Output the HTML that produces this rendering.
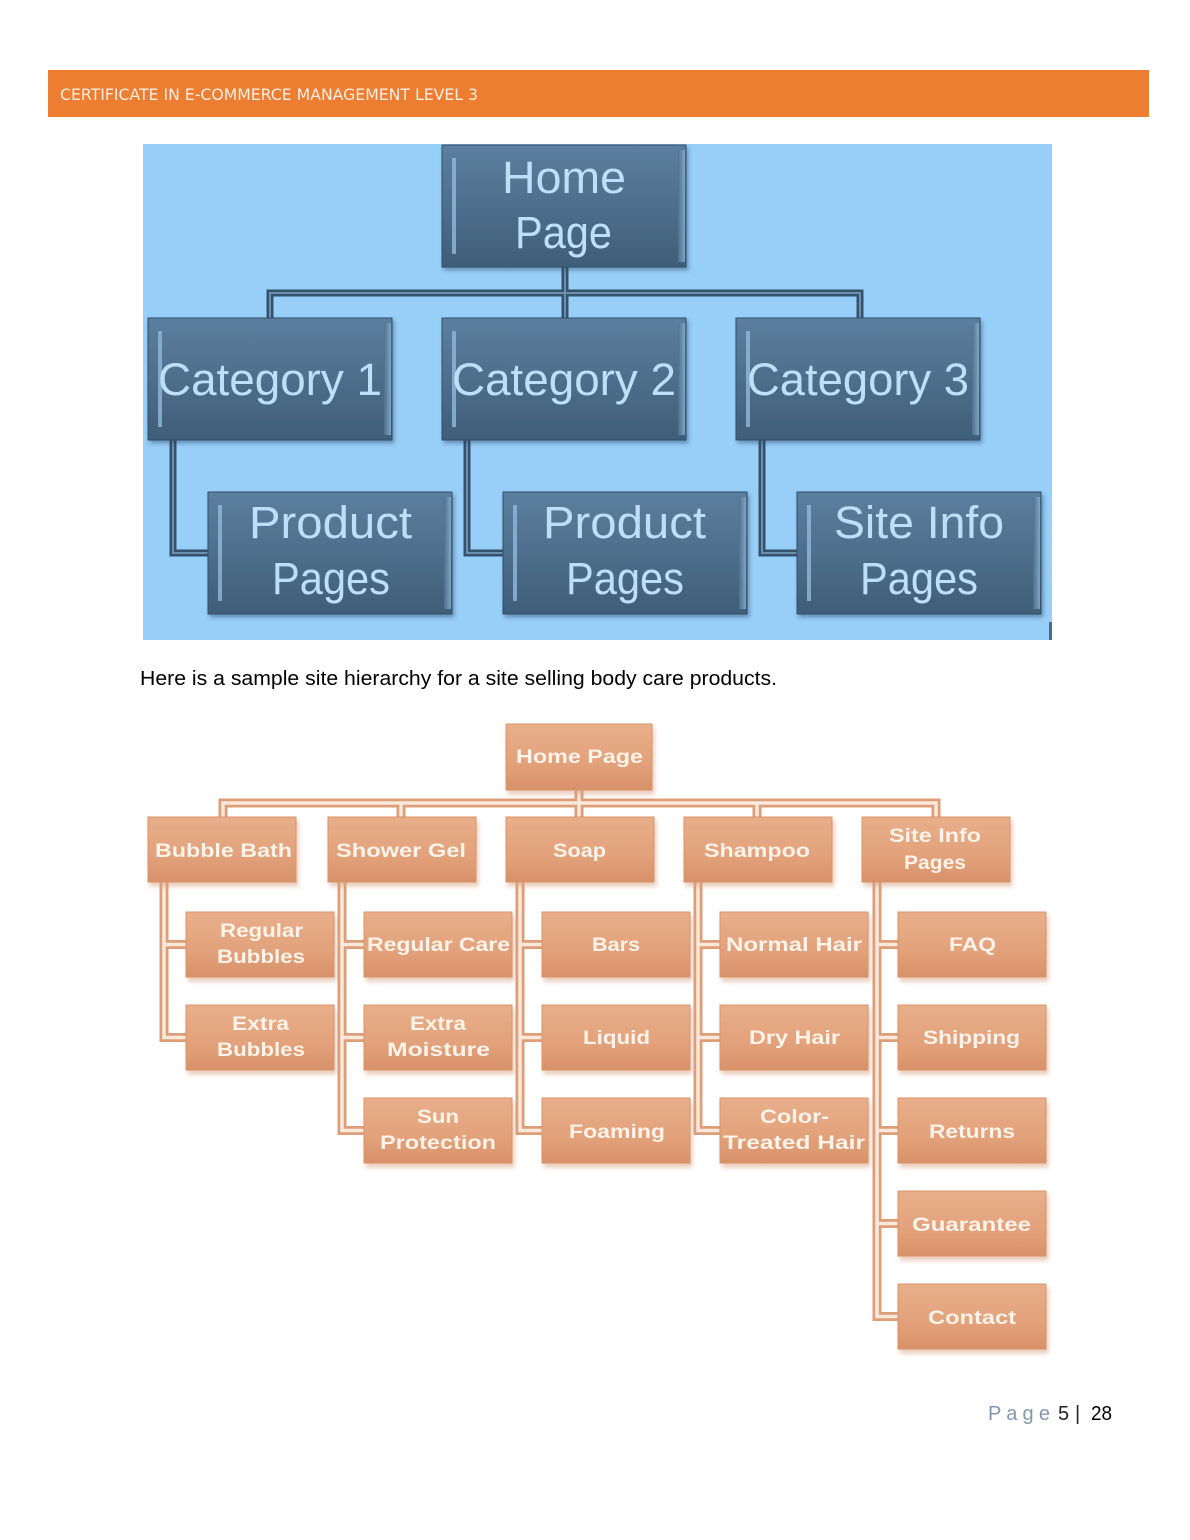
<!DOCTYPE html>
<html>
<head>
<meta charset="utf-8">
<style>
html,body{margin:0;padding:0;background:#fff;}
body{width:1190px;height:1540px;overflow:hidden;position:relative;}
svg{position:absolute;left:0;top:0;}
</style>
</head>
<body>
<svg width="1190" height="1540" viewBox="0 0 1190 1540" xmlns="http://www.w3.org/2000/svg">
<defs>
  <linearGradient id="bb" x1="0" y1="0" x2="0" y2="1">
    <stop offset="0" stop-color="#5b7f9e"/>
    <stop offset="0.5" stop-color="#4d6f8d"/>
    <stop offset="1" stop-color="#3f5d78"/>
  </linearGradient>
  <linearGradient id="rb" x1="0" y1="0" x2="1" y2="0">
    <stop offset="0" stop-color="#4f7190"/>
    <stop offset="1" stop-color="#86abc9"/>
  </linearGradient>
  <linearGradient id="ob" x1="0" y1="0" x2="0" y2="1">
    <stop offset="0" stop-color="#e8af8b"/>
    <stop offset="0.6" stop-color="#e2a17a"/>
    <stop offset="1" stop-color="#d8916a"/>
  </linearGradient>
  <filter id="os" x="-10%" y="-10%" width="125%" height="140%">
    <feDropShadow dx="2" dy="4" stdDeviation="2.5" flood-color="#d9a080" flood-opacity="0.55"/>
  </filter>
  <filter id="bs" x="-10%" y="-10%" width="125%" height="130%">
    <feDropShadow dx="2" dy="3" stdDeviation="2" flood-color="#2c4660" flood-opacity="0.45"/>
  </filter>
</defs>

<!-- Header -->
<rect x="48" y="70" width="1101" height="47" fill="#ed7d31"/>
<text x="60" y="100" font-family="DejaVu Sans, sans-serif" font-size="16" fill="#fdeee3" textLength="418" lengthAdjust="spacingAndGlyphs">CERTIFICATE IN E-COMMERCE MANAGEMENT LEVEL 3</text>

<!-- Blue diagram -->
<rect x="143" y="144" width="909" height="496" fill="#98cff9"/>
<rect x="1049" y="622" width="3" height="18" fill="#4a6a88"/>

<g fill="none" stroke-linejoin="miter">
  <path d="M270 318 V293 H860 V318 M565 267 V318" stroke="#34526c" stroke-width="7"/>
  <path d="M270 318 V293 H860 V318 M565 267 V318" stroke="#6d90ad" stroke-width="2"/>
  <path d="M173 440 V553 H208 M467 440 V553 H503 M762 440 V553 H797" stroke="#34526c" stroke-width="7"/>
  <path d="M173 440 V553 H208 M467 440 V553 H503 M762 440 V553 H797" stroke="#6d90ad" stroke-width="2"/>
</g>

<g>
  <g filter="url(#bs)">
    <rect x="442" y="145" width="244" height="122" fill="url(#bb)" stroke="#33506a"/>
    <rect x="148" y="318" width="244" height="122" fill="url(#bb)" stroke="#33506a"/>
    <rect x="442" y="318" width="244" height="122" fill="url(#bb)" stroke="#33506a"/>
    <rect x="736" y="318" width="244" height="122" fill="url(#bb)" stroke="#33506a"/>
    <rect x="208" y="492" width="244" height="122" fill="url(#bb)" stroke="#33506a"/>
    <rect x="503" y="492" width="244" height="122" fill="url(#bb)" stroke="#33506a"/>
    <rect x="797" y="492" width="244" height="122" fill="url(#bb)" stroke="#33506a"/>
  </g>
  <g fill="#8db5d6" opacity="0.85">
    <rect x="452" y="158" width="4" height="96"/>
    <rect x="158" y="331" width="4" height="96"/>
    <rect x="452" y="331" width="4" height="96"/>
    <rect x="746" y="331" width="4" height="96"/>
    <rect x="218" y="505" width="4" height="96"/>
    <rect x="513" y="505" width="4" height="96"/>
    <rect x="807" y="505" width="4" height="96"/>
  </g>
  <g fill="url(#rb)" opacity="0.9">
    <rect x="678" y="150" width="7" height="112"/>
    <rect x="384" y="323" width="7" height="112"/>
    <rect x="678" y="323" width="7" height="112"/>
    <rect x="972" y="323" width="7" height="112"/>
    <rect x="444" y="497" width="7" height="112"/>
    <rect x="739" y="497" width="7" height="112"/>
    <rect x="1033" y="497" width="7" height="112"/>
  </g>
</g>

<g font-family="Liberation Sans, Arial, sans-serif" font-size="45" fill="#bddff9">
  <text x="502" y="193" textLength="124" lengthAdjust="spacingAndGlyphs">Home</text>
  <text x="515" y="248" textLength="97" lengthAdjust="spacingAndGlyphs">Page</text>
  <text x="158" y="395" textLength="224" lengthAdjust="spacingAndGlyphs">Category 1</text>
  <text x="452" y="395" textLength="224" lengthAdjust="spacingAndGlyphs">Category 2</text>
  <text x="747" y="395" textLength="222" lengthAdjust="spacingAndGlyphs">Category 3</text>
  <text x="249" y="538" textLength="163" lengthAdjust="spacingAndGlyphs">Product</text>
  <text x="272" y="594" textLength="118" lengthAdjust="spacingAndGlyphs">Pages</text>
  <text x="543" y="538" textLength="163" lengthAdjust="spacingAndGlyphs">Product</text>
  <text x="566" y="594" textLength="118" lengthAdjust="spacingAndGlyphs">Pages</text>
  <text x="834" y="538" textLength="170" lengthAdjust="spacingAndGlyphs">Site Info</text>
  <text x="860" y="594" textLength="118" lengthAdjust="spacingAndGlyphs">Pages</text>
</g>

<!-- Caption -->
<text x="140" y="685" font-family="Liberation Sans, Arial, sans-serif" font-size="20" fill="#000" textLength="637" lengthAdjust="spacingAndGlyphs">Here is a sample site hierarchy for a site selling body care products.</text>

<!-- Orange diagram connectors -->
<g fill="none">
  <path d="M223 817 V803 H936 V817 M401 803 V817 M579 790 V817 M757 803 V817
           M164 882 V1037.5 H186 M164 944.5 H186
           M342 882 V1130.5 H364 M342 944.5 H364 M342 1037.5 H364
           M520 882 V1130.5 H542 M520 944.5 H542 M520 1037.5 H542
           M698 882 V1130.5 H720 M698 944.5 H720 M698 1037.5 H720
           M877 882 V1316.5 H898 M877 944.5 H898 M877 1037.5 H898 M877 1130.5 H898 M877 1223.5 H898"
        stroke="#dc9d77" stroke-width="9"/>
  <path d="M223 817 V803 H936 V817 M401 803 V817 M579 790 V817 M757 803 V817
           M164 882 V1037.5 H186 M164 944.5 H186
           M342 882 V1130.5 H364 M342 944.5 H364 M342 1037.5 H364
           M520 882 V1130.5 H542 M520 944.5 H542 M520 1037.5 H542
           M698 882 V1130.5 H720 M698 944.5 H720 M698 1037.5 H720
           M877 882 V1316.5 H898 M877 944.5 H898 M877 1037.5 H898 M877 1130.5 H898 M877 1223.5 H898"
        stroke="#f9e8dc" stroke-width="3.5"/>
</g>

<!-- Orange boxes -->
<g filter="url(#os)" fill="url(#ob)" stroke="#d8946c" stroke-width="1">
  <rect x="506" y="724" width="146" height="66"/>
  <rect x="148" y="817" width="148" height="65"/>
  <rect x="328" y="817" width="148" height="65"/>
  <rect x="506" y="817" width="148" height="65"/>
  <rect x="684" y="817" width="148" height="65"/>
  <rect x="862" y="817" width="148" height="65"/>

  <rect x="186" y="912" width="148" height="65"/>
  <rect x="186" y="1005" width="148" height="65"/>

  <rect x="364" y="912" width="148" height="65"/>
  <rect x="364" y="1005" width="148" height="65"/>
  <rect x="364" y="1098" width="148" height="65"/>

  <rect x="542" y="912" width="148" height="65"/>
  <rect x="542" y="1005" width="148" height="65"/>
  <rect x="542" y="1098" width="148" height="65"/>

  <rect x="720" y="912" width="148" height="65"/>
  <rect x="720" y="1005" width="148" height="65"/>
  <rect x="720" y="1098" width="148" height="65"/>

  <rect x="898" y="912" width="148" height="65"/>
  <rect x="898" y="1005" width="148" height="65"/>
  <rect x="898" y="1098" width="148" height="65"/>
  <rect x="898" y="1191" width="148" height="65"/>
  <rect x="898" y="1284" width="148" height="65"/>
</g>

<g font-family="Liberation Sans, Arial, sans-serif" font-size="19" font-weight="bold" fill="#fff3ea">
  <text x="516" y="763" textLength="127" lengthAdjust="spacingAndGlyphs">Home Page</text>
  <text x="155" y="857" textLength="137" lengthAdjust="spacingAndGlyphs">Bubble Bath</text>
  <text x="336" y="857" textLength="130" lengthAdjust="spacingAndGlyphs">Shower Gel</text>
  <text x="553" y="857" textLength="53" lengthAdjust="spacingAndGlyphs">Soap</text>
  <text x="704" y="857" textLength="106" lengthAdjust="spacingAndGlyphs">Shampoo</text>
  <text x="889" y="842" textLength="92" lengthAdjust="spacingAndGlyphs">Site Info</text>
  <text x="904" y="869" textLength="62" lengthAdjust="spacingAndGlyphs">Pages</text>

  <text x="220" y="937" textLength="83" lengthAdjust="spacingAndGlyphs">Regular</text>
  <text x="217" y="963" textLength="88" lengthAdjust="spacingAndGlyphs">Bubbles</text>
  <text x="367" y="951" textLength="143" lengthAdjust="spacingAndGlyphs">Regular Care</text>
  <text x="592" y="951" textLength="48" lengthAdjust="spacingAndGlyphs">Bars</text>
  <text x="726" y="951" textLength="136" lengthAdjust="spacingAndGlyphs">Normal Hair</text>
  <text x="949" y="951" textLength="47" lengthAdjust="spacingAndGlyphs">FAQ</text>

  <text x="232" y="1030" textLength="57" lengthAdjust="spacingAndGlyphs">Extra</text>
  <text x="217" y="1056" textLength="88" lengthAdjust="spacingAndGlyphs">Bubbles</text>
  <text x="410" y="1030" textLength="56" lengthAdjust="spacingAndGlyphs">Extra</text>
  <text x="387" y="1056" textLength="103" lengthAdjust="spacingAndGlyphs">Moisture</text>
  <text x="583" y="1044" textLength="67" lengthAdjust="spacingAndGlyphs">Liquid</text>
  <text x="749" y="1044" textLength="91" lengthAdjust="spacingAndGlyphs">Dry Hair</text>
  <text x="923" y="1044" textLength="97" lengthAdjust="spacingAndGlyphs">Shipping</text>

  <text x="417" y="1123" textLength="42" lengthAdjust="spacingAndGlyphs">Sun</text>
  <text x="380" y="1149" textLength="116" lengthAdjust="spacingAndGlyphs">Protection</text>
  <text x="569" y="1138" textLength="96" lengthAdjust="spacingAndGlyphs">Foaming</text>
  <text x="760" y="1123" textLength="69" lengthAdjust="spacingAndGlyphs">Color-</text>
  <text x="723" y="1149" textLength="142" lengthAdjust="spacingAndGlyphs">Treated Hair</text>
  <text x="929" y="1138" textLength="86" lengthAdjust="spacingAndGlyphs">Returns</text>

  <text x="912" y="1231" textLength="119" lengthAdjust="spacingAndGlyphs">Guarantee</text>
  <text x="928" y="1324" textLength="88" lengthAdjust="spacingAndGlyphs">Contact</text>
</g>

<!-- Footer -->
<g font-family="Liberation Sans, Arial, sans-serif" font-size="20">
  <text x="988" y="1420" fill="#8497b0" textLength="62" lengthAdjust="spacing">P a g e</text>
  <text x="1058" y="1420" fill="#222">5</text>
  <text x="1075" y="1420" fill="#222">|</text>
  <text x="1091" y="1420" fill="#000" textLength="21" lengthAdjust="spacingAndGlyphs">28</text>
</g>
</svg>
</body>
</html>
